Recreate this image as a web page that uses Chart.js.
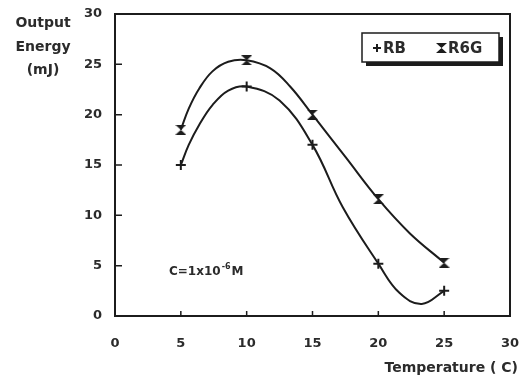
<!DOCTYPE html>
<html>
<head>
<meta charset="utf-8">
<script src="https://cdn.jsdelivr.net/npm/chart.js@4/dist/chart.umd.min.js"></script>
<style>
  html, body { margin: 0; padding: 0; background: #fff; }
  #wrap { width: 523px; height: 381px; }
</style>
</head>
<body>
<div id="wrap"><canvas id="tempChart" width="523" height="381"></canvas></div>
<script>
// measured points (markers)
const temps = [5, 10, 15, 20, 25];
const rbEnergy = [15.0, 22.8, 17.0, 5.2, 2.5];
const r6gEnergy = [18.5, 25.4, 20.0, 11.6, 5.3];

// fitted curves
const rbCurveT = [5, 5.6, 6.4, 7.4, 8.6, 10, 12.5, 15, 17.3, 20, 21.6, 23.3, 25];
const rbCurveE = [15.0, 17.0, 19.0, 20.95, 22.4, 22.8, 21.4, 17.0, 10.8, 5.2, 2.3, 1.2, 2.5];
const r6gCurveT = [5, 5.6, 6.4, 7.4, 8.6, 10, 11.8, 13.3, 15, 17.5, 20, 22.4, 25];
const r6gCurveE = [18.5, 20.6, 22.6, 24.3, 25.25, 25.4, 24.6, 22.8, 20.0, 15.8, 11.6, 8.2, 5.3];

const xTicks = [0, 5, 10, 15, 20, 25, 30];
const yTicks = [0, 5, 10, 15, 20, 25, 30];

const ink = "#1c1c1c";
const textInk = "#2b2b2b";
const fam = "'DejaVu Sans', sans-serif";

function toXY(xs, ys) {
    return xs.map((x, i) => ({x: x, y: ys[i]}));
}

// hourglass marker for R6G
function hourglass(w, h) {
    const c = document.createElement("canvas");
    c.width = w; c.height = h;
    const g = c.getContext("2d");
    g.fillStyle = ink;
    g.beginPath();
    g.moveTo(0, 0); g.lineTo(w, 0); g.lineTo(w / 2, h / 2); g.closePath();
    g.moveTo(0, h); g.lineTo(w, h); g.lineTo(w / 2, h / 2); g.closePath();
    g.fill();
    return c;
}
const hgMarker = hourglass(11, 10);

function drawPlus(ctx, x, y, r) {
    ctx.beginPath();
    ctx.moveTo(x - r, y); ctx.lineTo(x + r, y);
    ctx.moveTo(x, y - r); ctx.lineTo(x, y + r);
    ctx.stroke();
}

const decorPlugin = {
    id: "decor",
    afterDraw(chart) {
        const ctx = chart.ctx;
        const a = chart.chartArea;
        const xs = chart.scales.x, ys = chart.scales.y;
        ctx.save();
        // frame
        ctx.strokeStyle = ink;
        ctx.lineWidth = 2;
        ctx.strokeRect(a.left, a.top, a.right - a.left, a.bottom - a.top);
        // inner ticks
        ctx.lineWidth = 1.5;
        ctx.beginPath();
        [5, 10, 15, 20, 25].forEach(v => {
            const px = xs.getPixelForValue(v);
            ctx.moveTo(px, a.bottom); ctx.lineTo(px, a.bottom - 5);
            const py = ys.getPixelForValue(v);
            ctx.moveTo(a.left, py); ctx.lineTo(a.left + 7, py);
        });
        ctx.stroke();

        // y title
        ctx.fillStyle = textInk;
        ctx.font = "bold 14px " + fam;
        ctx.textAlign = "center";
        ctx.textBaseline = "middle";
        ctx.fillText("Output", 43, 23);
        ctx.fillText("Energy", 43, 47);
        ctx.fillText("(mJ)", 43, 70);

        // x title
        ctx.textAlign = "right";
        ctx.fillText("Temperature ( C)", 518, 368);

        // concentration note
        ctx.textAlign = "left";
        ctx.font = "bold 12px " + fam;
        let tx = 169;
        ctx.fillText("C=1x10", tx, 272);
        tx += ctx.measureText("C=1x10").width + 1;
        ctx.font = "bold 8px " + fam;
        ctx.fillText("-6", tx, 267);
        tx += ctx.measureText("-6").width + 1;
        ctx.font = "bold 12px " + fam;
        ctx.fillText("M", tx, 272);

        // legend box with shadow
        ctx.fillStyle = ink;
        ctx.fillRect(366, 37, 137, 29);
        ctx.fillStyle = "#fff";
        ctx.fillRect(362, 33, 137, 29);
        ctx.lineWidth = 1.5;
        ctx.strokeRect(362, 33, 137, 29);
        ctx.strokeStyle = ink;
        ctx.lineWidth = 2;
        drawPlus(ctx, 377, 48, 4);
        ctx.drawImage(hgMarker, 436, 43);
        ctx.fillStyle = textInk;
        ctx.font = "bold 15px " + fam;
        ctx.textAlign = "left";
        ctx.fillText("RB", 383, 49);
        ctx.fillText("R6G", 448, 49);
        ctx.restore();
    }
};

const ctx = document.getElementById("tempChart").getContext("2d");
const tempChart = new Chart(ctx, {
    type: "line",
    data: {
        datasets: [
            {
                label: "RB fit",
                data: toXY(rbCurveT, rbCurveE),
                borderColor: ink,
                borderWidth: 2,
                pointRadius: 0,
                tension: 0.4,
                fill: false
            },
            {
                label: "R6G fit",
                data: toXY(r6gCurveT, r6gCurveE),
                borderColor: ink,
                borderWidth: 2,
                pointRadius: 0,
                tension: 0.4,
                fill: false
            },
            {
                label: "RB",
                data: toXY(temps, rbEnergy),
                showLine: false,
                pointStyle: "cross",
                pointRadius: 5,
                pointBorderWidth: 2,
                pointBorderColor: ink
            },
            {
                label: "R6G",
                data: toXY(temps, r6gEnergy),
                showLine: false,
                pointStyle: hgMarker,
                pointRadius: 5
            }
        ]
    },
    options: {
        responsive: false,
        animation: false,
        layout: { padding: { left: 0, right: 13, top: 14, bottom: 0 } },
        plugins: {
            legend: { display: false },
            tooltip: { enabled: false }
        },
        scales: {
            x: {
                type: "linear",
                min: 0,
                max: 30,
                afterFit: s => { s.height = 65; s.paddingLeft = 0; s.paddingRight = 0; },
                afterBuildTicks: s => { s.ticks = xTicks.map(v => ({value: v})); },
                grid: { display: false, drawTicks: false },
                border: { display: false },
                ticks: {
                    padding: 20,
                    color: textInk,
                    font: { family: fam, size: 13, weight: "bold" }
                }
            },
            y: {
                min: 0,
                max: 30,
                afterFit: s => { s.width = 115; s.paddingTop = 0; s.paddingBottom = 0; },
                afterBuildTicks: s => { s.ticks = yTicks.map(v => ({value: v})); },
                grid: { display: false, drawTicks: false },
                border: { display: false },
                ticks: {
                    padding: 13,
                    color: textInk,
                    font: { family: fam, size: 13, weight: "bold" }
                }
            }
        }
    },
    plugins: [decorPlugin]
});
</script>
</body>
</html>
